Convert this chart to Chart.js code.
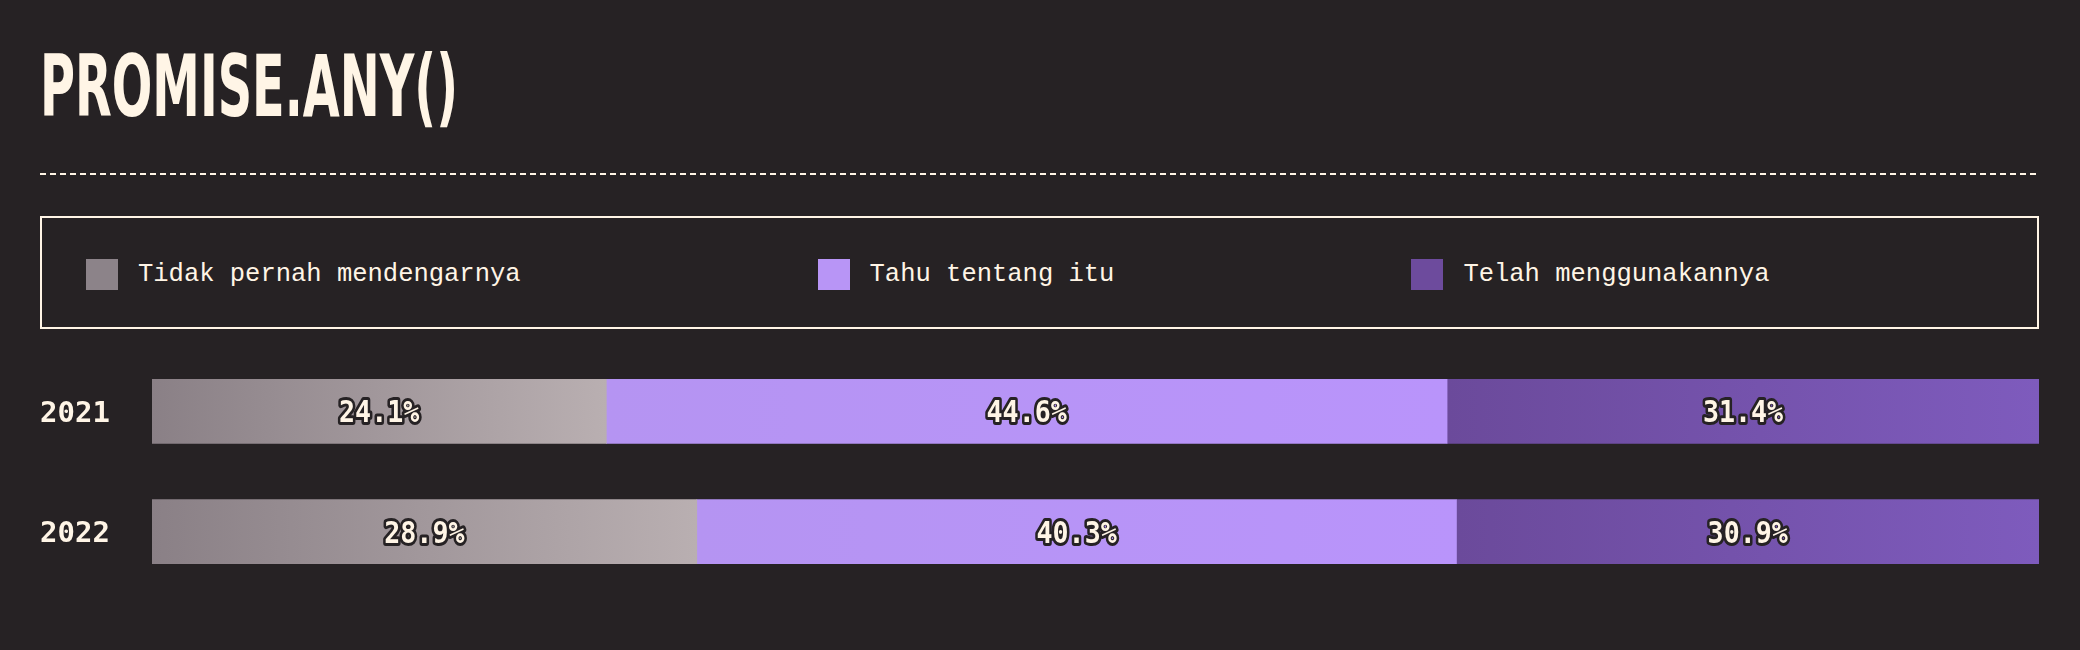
<!DOCTYPE html>
<html>
<head>
<meta charset="utf-8">
<script src="https://cdn.jsdelivr.net/npm/chart.js@4"></script>
<style>
  body { margin: 0; width: 2080px; height: 650px; overflow: hidden; position: relative; background: #262224; color: #fff5e6; }
  #title { position: absolute; left: 40px; top: 43px; font-family: "DejaVu Sans Condensed", "DejaVu Sans"; font-stretch: condensed; font-weight: bold; font-size: 86px; line-height: 1; white-space: nowrap; transform-origin: 0 0; }
  #rule { position: absolute; left: 40px; top: 173px; width: 1999px; height: 2px; background: repeating-linear-gradient(90deg, #fff5e6 0 6px, transparent 6px 10px); }
  #legend { position: absolute; left: 40px; top: 216px; width: 1999px; height: 113px; box-sizing: border-box; border: 2px solid #fff5e6; padding: 3px 0 0 44px; display: flex; align-items: center; font-family: "Liberation Mono", monospace; font-size: 25.5px; white-space: nowrap; }
  .item { display: flex; align-items: center; flex-shrink: 0; margin-right: 297px; }
  .swatch { width: 32px; height: 31px; margin-right: 20px; flex-shrink: 0; }
  #wrap { position: absolute; left: 40px; top: 334px; width: 1999px; height: 275px; }
</style>
</head>
<body>
<div id="title">PROMISE.ANY()</div>
<div id="rule"></div>
<div id="legend"></div>
<div id="wrap"><canvas id="chart"></canvas></div>
<script>
var years = ['2021', '2022'];
var seriesNames = ['Tidak pernah mendengarnya', 'Tahu tentang itu', 'Telah menggunakannya'];
var neverHeard = [24.1, 28.9];
var knowAbout = [44.6, 40.3];
var usedIt = [31.4, 30.9];
var seriesValues = [neverHeard, knowAbout, usedIt];

var swatchColors = ['#8c8389', '#b895f6', '#6d4b9d'];
var gradients = [
  ['#8a8086', '#b9afb1'],
  ['#b594f2', '#b994fb'],
  ['#6b4a9b', '#7e5bbd']
];
var cream = '#fff5e6';
var bg = '#262224';

// title: squeeze to the condensed look of the original
var title = document.getElementById('title');
title.style.transform = 'scaleX(' + (418 / title.getBoundingClientRect().width) + ')';

// legend
var legend = document.getElementById('legend');
seriesNames.forEach(function(name, i) {
  var item = document.createElement('div');
  item.className = 'item';
  item.innerHTML = '<div class="swatch" style="background:' + swatchColors[i] + '"></div><span>' + name + '</span>';
  legend.appendChild(item);
});

var total = Math.max.apply(null, years.map(function(y, i) {
  return neverHeard[i] + knowAbout[i] + usedIt[i];
}));

function segFill(ctx) {
  var chart = ctx.chart;
  var colors = gradients[ctx.datasetIndex];
  if (!chart.chartArea || ctx.dataIndex === undefined) return colors[0];
  var x = chart.scales.x;
  var start = 0;
  for (var i = 0; i < ctx.datasetIndex; i++) start += seriesValues[i][ctx.dataIndex];
  var end = start + seriesValues[ctx.datasetIndex][ctx.dataIndex];
  var g = chart.ctx.createLinearGradient(x.getPixelForValue(start), 0, x.getPixelForValue(end), 0);
  g.addColorStop(0, colors[0]);
  g.addColorStop(1, colors[1]);
  return g;
}

var valueLabels = {
  id: 'valueLabels',
  afterDatasetsDraw: function(chart) {
    var c = chart.ctx;
    c.save();
    c.font = 'bold 31px "DejaVu Sans Mono"';
    c.textAlign = 'center';
    c.textBaseline = 'middle';
    c.lineJoin = 'round';
    chart.data.datasets.forEach(function(ds, di) {
      chart.getDatasetMeta(di).data.forEach(function(bar, i) {
        var t = ds.data[i].toFixed(1) + '%';
        c.save();
        c.translate((bar.x + bar.base) / 2, bar.y + 3);
        c.scale(0.86, 1);
        c.lineWidth = 6;
        c.strokeStyle = bg;
        c.strokeText(t, 0, 0);
        c.fillStyle = cream;
        c.fillText(t, 0, 0);
        c.restore();
      });
    });
    c.restore();
  }
};

new Chart(document.getElementById('chart').getContext('2d'), {
  type: 'bar',
  data: {
    labels: years,
    datasets: seriesValues.map(function(vals, i) {
      return { label: seriesNames[i], data: vals, backgroundColor: segFill, borderWidth: 0, barThickness: 64 };
    })
  },
  options: {
    indexAxis: 'y',
    responsive: true,
    maintainAspectRatio: false,
    animation: false,
    layout: { padding: 0 },
    plugins: { legend: { display: false }, tooltip: { enabled: false } },
    scales: {
      x: { stacked: true, display: false, min: 0, max: total },
      y: {
        stacked: true,
        grid: { display: false },
        border: { display: false },
        ticks: { color: cream, crossAlign: 'far', padding: 0, labelOffset: 3, font: { family: 'DejaVu Sans Mono', weight: 'bold', size: 29 } },
        afterFit: function(scale) { scale.width = 112; }
      }
    }
  },
  plugins: [valueLabels]
});
</script>
</body>
</html>
